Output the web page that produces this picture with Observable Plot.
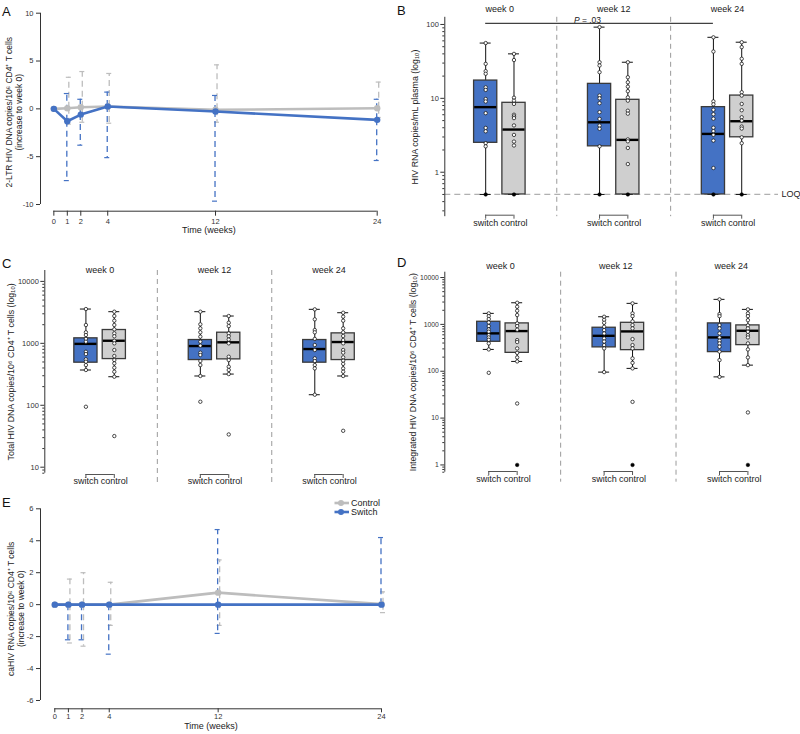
<!DOCTYPE html>
<html><head><meta charset="utf-8">
<script src="https://cdn.jsdelivr.net/npm/d3@7"></script>
<script src="https://cdn.jsdelivr.net/npm/@observablehq/plot@0.6"></script>
<style>
body{margin:0;background:#fff;}
#root{position:relative;width:800px;height:734px;overflow:hidden;font-family:"Liberation Sans",Arial,sans-serif;color:#222;}
.panel{position:absolute;}
.panel svg{overflow:visible;}
.letter{position:absolute;font-size:13px;line-height:13px;color:#111;}
.legend{position:absolute;font-size:9px;line-height:10px;color:#222;display:flex;align-items:center;}
</style></head><body><div id="root"></div>
<script>
// ================= DATA =================
const timeWeeks = [0, 1, 2, 4, 12, 24];

// Panel A: 2-LTR HIV DNA (increase to week 0)
const ltrControlMean = [0, 0.07, 0.17, 0.24, -0.1, 0.06];
const ltrControlLow  = [null, -1.6, -1.4, -1.5, -1.4, -0.9];
const ltrControlHigh = [null, 3.3, 3.9, 3.7, 4.6, 2.8];
const ltrSwitchMean  = [0, -1.3, -0.6, 0.25, -0.28, -1.15];
const ltrSwitchLow   = [null, -7.5, -3.8, -5.1, -9.65, -5.4];
const ltrSwitchHigh  = [null, 1.6, 1.0, 1.75, 1.4, 1.0];
const ltrYTicks = [-10, -5, 0, 5, 10];

// Panel E: caHIV RNA (increase to week 0)
const caControlMean = [0, 0, 0, 0, 0.75, 0.03];
const caControlLow  = [null, -2.4, -2.6, -1.3, -1.3, -0.5];
const caControlHigh = [null, 1.6, 2.0, 1.4, 2.8, 0.8];
const caSwitchMean  = [0, 0, 0, 0, 0, 0];
const caSwitchLow   = [null, -2.2, -2.2, -3.1, -1.8, 0];
const caSwitchHigh  = [null, 0, 0, 0, 4.7, 4.2];
const caYTicks = [-6, -4, -2, 0, 2, 4, 6];

// Box panels: weeks and groups
const boxWeeks = [0, 12, 24];
const boxGroups = ["switch", "control"];
// box stats per week: [whisker low, Q1, median, Q3, whisker high]

// Panel B: HIV RNA copies/mL plasma
const rnaLOQ = 0.5;
const rnaSwitchBox  = [[0.5, 2.5, 7.6, 17.4, 56], [0.5, 2.24, 4.74, 15.7, 92], [0.5, 0.5, 3.3, 7.6, 67]];
const rnaControlBox = [[0.5, 0.5, 3.78, 8.7, 40], [0.5, 0.5, 2.74, 9.55, 30.8], [0.5, 2.97, 4.9, 10.9, 57.5]];
const rnaSwitchPts = [
  [56, 29.3, 23.3, 21.5, 14.1, 13.0, 9.8, 9.06, 6.3, 3.98, 3.58, 2.47, 2.24, 0.5],
  [92, 30.8, 27.8, 22.6, 10.9, 10.0, 8.6, 6.5, 5.27, 4.28, 3.87, 2.24, 0.5],
  [67, 43, 9.1, 8.3, 7.0, 6.1, 5.3, 4.0, 3.6, 3.2, 2.68, 1.14, 0.5]
];
const rnaControlPts = [
  [40, 33, 10.2, 9.3, 8.4, 6.0, 5.7, 5.4, 4.3, 3.2, 2.6, 2.3, 0.5],
  [30.8, 19.3, 16.5, 14.4, 12.5, 10.3, 9.3, 6.8, 6.2, 2.78, 2.62, 2.13, 1.29, 0.5],
  [57.5, 49.3, 34.3, 29.3, 12.1, 10.9, 8.4, 6.9, 5.55, 5.0, 4.15, 3.9, 2.97, 2.47, 0.5]
];
const rnaYTicks = [1, 10, 100];
const rnaPWeeks = [0, 24];
const rnaPValue = ".03";

// Panel C: Total HIV DNA copies/10^6 CD4+ T cells
const totSwitchBox  = [[371, 487, 980, 1205, 3580], [297, 537, 904, 1131, 3243], [148, 487, 809, 1131, 3540]];
const totControlBox = [[289, 557, 1101, 1641, 3243], [319, 551, 1038, 1485, 2761], [297, 537, 1050, 1449, 3120]];
const totSwitchPts = [
  [3580, 1977, 1507, 1361, 1180, 1062, 731, 671, 551, 505, 446, 371, 94.6],
  [3243, 2028, 1746, 1507, 1281, 1062, 916, 706, 648, 518, 446, 297, 114],
  [3540, 2443, 1641, 1507, 1180, 940, 780, 572, 518, 446, 394, 148]
];
const totControlPts = [
  [3243, 2761, 2319, 1977, 1682, 1449, 1300, 1101, 1000, 780, 624, 537, 475, 404, 348, 289, 31.8],
  [2761, 2153, 1900, 1449, 1300, 1150, 1000, 608, 537, 419, 371, 319, 33.8],
  [3120, 2698, 2319, 1746, 1507, 1313, 1131, 1000, 780, 706, 594, 524, 466, 394, 348, 297, 38.7]
];
const totYTicks = [10, 100, 1000, 10000];

// Panel D: Integrated HIV DNA copies/10^6 CD4+ T cells
const intSwitchBox  = [[292, 425, 643, 1137, 1718], [95.8, 323, 570, 848, 1455], [75.8, 256, 527, 1050, 3420]];
const intControlBox = [[162, 247, 720, 1050, 2896], [115, 282, 708, 1081, 2810], [135, 361, 731, 952, 2090]];
const intSwitchPts = [
  [1718, 1500, 1300, 1100, 920, 782, 700, 590, 527, 470, 393, 292, 92.5],
  [1455, 1250, 1080, 889, 755, 640, 502, 430, 361, 307, 95.8],
  [3420, 1660, 1500, 966, 820, 643, 527, 447, 393, 332, 262, 173, 75.8]
];
const intControlPts = [
  [2896, 2377, 1954, 1581, 1050, 920, 770, 462, 420, 307, 247, 197, 162, 20.5, 1],
  [2810, 1718, 1500, 1160, 966, 820, 485, 361, 307, 188, 151, 115, 22.2, 1],
  [2090, 1718, 1500, 1230, 952, 820, 695, 590, 527, 393, 292, 197, 135, 13.2, 1]
];
const intYTicks = [1, 10, 100, 1000, 10000];
const intFloor = 1;

// ================= STYLE =================
const FONT = '"Liberation Sans", Arial, Helvetica, sans-serif';
const BLUE = "#4472c4";
const LINEGRAY = "#bdbdbd";
const BOXGRAY = "#cfcfcf";
const AXIS = "#333";

const root = document.getElementById("root");
function place(node, left, top) {
  const d = document.createElement("div");
  d.className = "panel";
  d.style.left = left + "px"; d.style.top = top + "px";
  d.appendChild(node);
  root.appendChild(d);
}
function letter(t, left, top) {
  const d = document.createElement("div");
  d.className = "letter"; d.textContent = t;
  d.style.left = left + "px"; d.style.top = top + "px";
  root.appendChild(d);
}
const baseStyle = {fontFamily: FONT, fontSize: "8px", color: "#222", background: "transparent", overflow: "visible"};

// ---------- time-course panels (A, E) ----------
function timeRows(mean, low, high) {
  return timeWeeks.map((w, i) => ({week: w, mean: mean[i], low: low[i], high: high[i]}));
}
function timePanel(o) {
  const ctrl = timeRows(...o.control), sw = timeRows(...o.switch);
  const errLow = r => r.filter(d => d.low != null && d.low !== d.mean);
  const errHigh = r => r.filter(d => d.high != null && d.high !== d.mean);
  const errMarks = (r, color, dx) => [
    Plot.ruleX(errLow(r), {x: "week", y1: "mean", y2: "low", dx, stroke: color, strokeWidth: 1.3, strokeDasharray: "6,4"}),
    Plot.ruleX(errHigh(r), {x: "week", y1: "mean", y2: "high", dx, stroke: color, strokeWidth: 1.3, strokeDasharray: "6,4"}),
    Plot.ruleY(errLow(r), {x1: "week", x2: "week", y: "low", dx, insetLeft: -2.5, insetRight: -2.5, stroke: color, strokeWidth: 1.2}),
    Plot.ruleY(errHigh(r), {x1: "week", x2: "week", y: "high", dx, insetLeft: -2.5, insetRight: -2.5, stroke: color, strokeWidth: 1.2})
  ];
  return Plot.plot({
    width: 400, height: o.height,
    marginTop: o.mt, marginBottom: o.mb, marginLeft: o.ml, marginRight: o.mr,
    x: {domain: o.xDomain}, y: {domain: o.yDomain},
    style: baseStyle,
    marks: [
      Plot.ruleX([o.xDomain[0]], {y1: o.yTicks[0], y2: o.yTicks[o.yTicks.length - 1], stroke: AXIS, strokeWidth: 1}),
      Plot.ruleY([o.yDomain[0]], {x1: timeWeeks[0], x2: timeWeeks[timeWeeks.length - 1], stroke: AXIS, strokeWidth: 1}),
      Plot.axisY({ticks: o.yTicks, tickSize: 4, tickPadding: 3, tickFormat: d => String(d), label: null, fontSize: 7.5, stroke: AXIS, fill: "#333"}),
      Plot.axisX({ticks: timeWeeks, tickSize: o.xTickSize, tickPadding: o.xTickPad, tickFormat: d => String(d), label: null, fontSize: 7.5, stroke: AXIS, fill: "#333"}),
      ...errMarks(ctrl, LINEGRAY, 1.5),
      ...errMarks(sw, BLUE, -0.5),
      Plot.line(ctrl, {x: "week", y: "mean", stroke: LINEGRAY, strokeWidth: 2.6}),
      Plot.dot(ctrl, {x: "week", y: "mean", fill: LINEGRAY, r: 3.2}),
      Plot.line(sw, {x: "week", y: "mean", stroke: BLUE, strokeWidth: 2.6}),
      Plot.dot(sw, {x: "week", y: "mean", fill: BLUE, r: 3.2}),
      Plot.text([o.ylabel], {text: d => d, frameAnchor: "left", textAnchor: "middle", lineAnchor: "middle", rotate: -90, dx: o.ylabelDx, fontSize: 8.5, lineHeight: 1.1, fill: "#222"}),
      Plot.text(["Time (weeks)"], {text: d => d, frameAnchor: "bottom", dy: o.xlabelDy, fontSize: 9, fill: "#222"})
    ]
  });
}

// ---------- box panels (B, C, D) ----------
function boxRows(swBox, ctBox) {
  const rows = [];
  [["switch", swBox], ["control", ctBox]].forEach(([g, arr]) =>
    arr.forEach((s, i) => rows.push({week: boxWeeks[i], group: g, lo: s[0], q1: s[1], med: s[2], q3: s[3], hi: s[4]})));
  return rows;
}
function ptRows(swPts, ctPts) {
  const rows = [];
  [["switch", swPts], ["control", ctPts]].forEach(([g, arr]) =>
    arr.forEach((vals, i) => vals.forEach(v => rows.push({week: boxWeeks[i], group: g, v}))));
  return rows;
}
function minorTicks([a, b]) {
  const t = [];
  for (let e = Math.floor(Math.log10(a)); e <= Math.ceil(Math.log10(b)); e++)
    for (let k = 2; k <= 9; k++) { const v = +(k * Math.pow(10, e)).toPrecision(6); if (v >= a && v <= b) t.push(v); }
  return t;
}
function boxPanel(o) {
  const rows = boxRows(o.swBox, o.ctBox), pts = ptRows(o.swPts, o.ctPts);
  const off = o.off, half = 11.6, ymin = o.yDomain[0];
  const seps = boxWeeks.slice(1).map((w, i) => (w + boxWeeks[i]) / 2);
  const marks = [
    Plot.ruleX(seps, {x: d => d, stroke: "#9a9a9a", strokeWidth: 1, strokeDasharray: "5,4", insetTop: o.sepTop || 0, insetBottom: o.sepBottom || 0}),
    ...(o.before || []),
    Plot.ruleX([o.xDomain[0]], {stroke: AXIS, strokeWidth: 1}),
    Plot.axisY({ticks: minorTicks(o.yDomain), tickSize: 2, tickFormat: () => "", label: null, stroke: AXIS}),
    Plot.axisY({ticks: o.yTicks, tickSize: 4, tickPadding: 2, tickFormat: d => String(d), label: null, fontSize: o.tickFont || 7.5, stroke: AXIS, fill: "#333"}),
    Plot.text(boxWeeks, {x: d => d, text: d => `week ${d}`, frameAnchor: "top", dy: o.weekDy, dx: o.weekDx || 0, fontSize: 9, fill: "#222"}),
    // group brackets
    Plot.ruleY(boxWeeks, {x1: d => d, x2: d => d, y: () => ymin, dy: o.bracketDy, insetLeft: -off, insetRight: -off, stroke: "#555", strokeWidth: 1}),
  ];
  for (const g of boxGroups) {
    const dx = g === "switch" ? -off : off;
    const R = rows.filter(d => d.group === g);
    const P = pts.filter(d => d.group === g);
    const fill = g === "switch" ? BLUE : BOXGRAY;
    marks.push(
      Plot.ruleX(boxWeeks, {x: d => d, y1: () => ymin, y2: () => ymin, dx, dy: o.bracketDy, insetBottom: -4, stroke: "#555", strokeWidth: 1}),
      Plot.text(boxWeeks, {x: d => d, text: () => g, frameAnchor: "bottom", dx, dy: o.labelDy, fontSize: 9, fill: "#222"}),
      Plot.ruleX(R, {x: "week", y1: "lo", y2: "q1", dx, stroke: "#111", strokeWidth: 1}),
      Plot.ruleX(R, {x: "week", y1: "q3", y2: "hi", dx, stroke: "#111", strokeWidth: 1}),
      Plot.ruleY(R, {x1: "week", x2: "week", y: "lo", dx, insetLeft: -5.5, insetRight: -5.5, stroke: "#111", strokeWidth: 1}),
      Plot.ruleY(R, {x1: "week", x2: "week", y: "hi", dx, insetLeft: -5.5, insetRight: -5.5, stroke: "#111", strokeWidth: 1}),
      Plot.rect(R, {x1: "week", x2: "week", y1: "q1", y2: "q3", dx, insetLeft: -half, insetRight: -half, fill, stroke: "#3a3a3a", strokeWidth: 1.3}),
      Plot.ruleY(R, {x1: "week", x2: "week", y: "med", dx, insetLeft: -half + 0.6, insetRight: -half + 0.6, stroke: "#000", strokeWidth: 2.4}),
      Plot.dot(P.filter(d => d.v > o.floor), {x: "week", y: "v", dx, r: 1.7, fill: "#fff", stroke: "#111", strokeWidth: 0.75}),
      Plot.dot(P.filter(d => d.v <= o.floor), {x: "week", y: "v", dx, r: 1.8, fill: "#000", stroke: "#000", strokeWidth: 0.5})
    );
  }
  marks.push(
    ...(o.after || []),
    Plot.text([o.ylabel], {text: d => d, frameAnchor: "left", textAnchor: "middle", lineAnchor: "middle", rotate: -90, dx: o.ylabelDx, fontSize: 8.8, fill: "#222"})
  );
  return Plot.plot({
    width: 400, height: o.height,
    marginTop: o.mt, marginBottom: o.mb, marginLeft: o.ml, marginRight: o.mr,
    x: {domain: o.xDomain, axis: null},
    y: {type: "log", domain: o.yDomain, axis: null},
    style: baseStyle,
    marks
  });
}

// ================= PANEL A =================
place(timePanel({
  height: 245, mt: 12.7, mb: 34.3, ml: 40, mr: 23.3,
  xDomain: [-0.99, 24], yDomain: [-10.7, 10], yTicks: ltrYTicks,
  xTickSize: 5, xTickPad: 2, xlabelDy: 21.5,
  control: [ltrControlMean, ltrControlLow, ltrControlHigh],
  switch: [ltrSwitchMean, ltrSwitchLow, ltrSwitchHigh],
  ylabel: "2-LTR HIV DNA copies/10\u2076 CD4\u207A T cells\n(increase to week 0)", ylabelDx: -26.5
}), 0, 0);

// ================= PANEL B =================
const OFF_B = 14.15;
place(boxPanel({
  height: 240, mt: 16.8, mb: 23.8, ml: 44.3, mr: 16,
  xDomain: [-5.8, 30], yDomain: [0.25, 125], yTicks: rnaYTicks,
  swBox: rnaSwitchBox, ctBox: rnaControlBox, swPts: rnaSwitchPts, ctPts: rnaControlPts,
  off: OFF_B, floor: rnaLOQ, weekDy: -11.5, labelDy: 9, bracketDy: -1.5,
  ylabel: "HIV RNA copies/mL plasma (log\u2081\u2080)", ylabelDx: -29.5,
  before: [
    Plot.ruleY([rnaLOQ], {y: d => d, stroke: "#b0b0b0", strokeWidth: 1.3, strokeDasharray: "6,4", insetRight: 6})
  ],
  after: [
    Plot.text(["LOQ"], {text: d => d, y: () => rnaLOQ, frameAnchor: "right", textAnchor: "start", dx: -3, fontSize: 9, fill: "#222"}),
    Plot.ruleY([rnaPWeeks], {x1: d => d[0], x2: d => d[1], y: () => 125, dy: 6, dx: -OFF_B, stroke: "#111", strokeWidth: 1}),
    Plot.text([rnaPWeeks], {x: d => (d[0] + d[1]) / 2, text: () => "P", frameAnchor: "top", dy: 0, dx: -OFF_B - 20, textAnchor: "end", fontStyle: "italic", fontSize: 8.5, fill: "#222"}),
    Plot.text([rnaPWeeks], {x: d => (d[0] + d[1]) / 2, text: () => " = " + rnaPValue, frameAnchor: "top", dy: 0, dx: -OFF_B - 20, textAnchor: "start", fontSize: 8.5, fill: "#222"})
  ]
}), 400, 0);

// ================= PANEL C =================
place(boxPanel({
  height: 245, mt: 25, mb: 17.3, ml: 44.3, mr: 14.3,
  xDomain: [-5.8, 30], yDomain: [8, 15000], yTicks: totYTicks,
  swBox: totSwitchBox, ctBox: totControlBox, swPts: totSwitchPts, ctPts: totControlPts,
  off: 14.2, floor: 0, weekDy: -3.5, labelDy: 10.6, bracketDy: 1.3, sepBottom: -10,
  ylabel: "Total HIV DNA copies/10\u2076 CD4\u207A T cells (log\u2081\u2080)", ylabelDx: -33.8
}), 0, 245);

// ================= PANEL D =================
place(boxPanel({
  height: 245, mt: 26.7, mb: 18.3, ml: 44.3, mr: 9.1,
  xDomain: [-6.05, 30], yDomain: [0.7, 13000], yTicks: intYTicks, tickFont: 6.8,
  swBox: intSwitchBox, ctBox: intControlBox, swPts: intSwitchPts, ctPts: intControlPts,
  off: 14.2, floor: intFloor, weekDy: -9.4, weekDx: -2.5, labelDy: 10, bracketDy: -0.7, sepBottom: -10,
  ylabel: "Integrated HIV DNA copies/10\u2076 CD4\u207A T cells (log\u2081\u2080)", ylabelDx: -32
}), 400, 245);

// ================= PANEL E =================
place(timePanel({
  height: 244, mt: 18.3, mb: 25.7, ml: 40, mr: 19,
  xDomain: [-1.05, 24], yDomain: [-6.52, 6], yTicks: caYTicks,
  xTickSize: 4, xTickPad: 0.5, xlabelDy: 19.7,
  control: [caControlMean, caControlLow, caControlHigh],
  switch: [caSwitchMean, caSwitchLow, caSwitchHigh],
  ylabel: "caHIV RNA copies/10\u2076 CD4\u207A T cells\n(increase to week 0)", ylabelDx: -24.5
}), 0, 490);

// legend for E
[["Control", LINEGRAY, 497.5], ["Switch", BLUE, 507]].forEach(([name, color, top]) => {
  const d = document.createElement("div");
  d.className = "legend";
  d.style.left = "334px"; d.style.top = top + "px";
  d.innerHTML = `<svg width="16" height="10" style="margin-right:1px"><line x1="0.5" y1="5" x2="15" y2="5" stroke="${color}" stroke-width="2.6"/><circle cx="7" cy="5" r="3" fill="${color}"/></svg><span>${name}</span>`;
  root.appendChild(d);
});

// panel letters
letter("A", 2, 5);
letter("B", 397, 4);
letter("C", 2, 257);
letter("D", 397, 256);
letter("E", 2, 496);
</script></body></html>
